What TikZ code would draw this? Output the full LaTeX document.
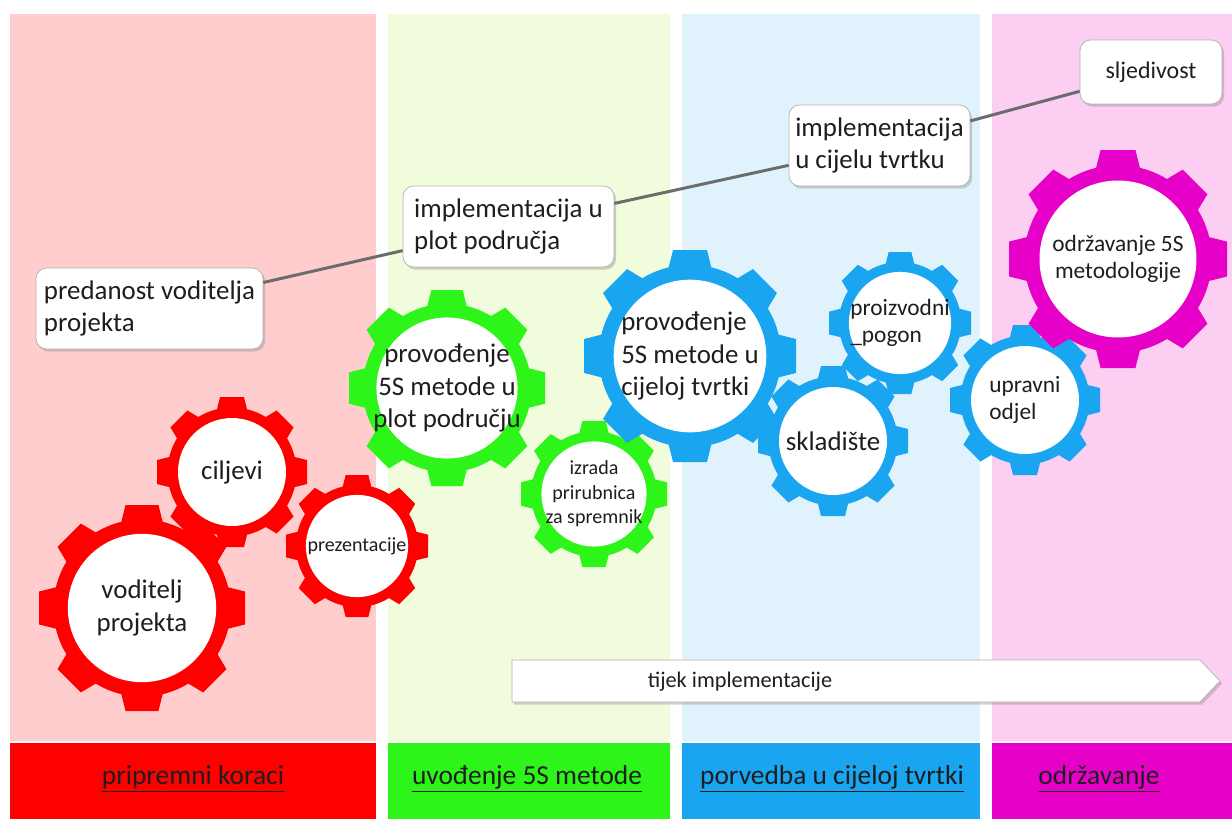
\documentclass[tikz,border=0pt]{standalone}
\usepackage{fontspec}
\setmainfont{Carlito}
\usetikzlibrary{shadows, backgrounds}

% zupcanik: #1 sredina, #2 polumjer, #3 boja, #4 ime, #5 stil teksta, #6 tekst
\newcommand{\zupcanik}[6]{%
    \begin{scope}[shift={#1}]
        \fill[#3] (0,0) circle ({0.86*#2});
        \foreach \kut in {0,45,...,315}
            \fill[#3, rotate=\kut] ({0.8*#2},{-0.21*#2}) -- ({#2},{-0.16*#2}) -- ({#2},{0.16*#2}) -- ({0.8*#2},{0.21*#2}) -- cycle;
        \fill[white] (0,0) circle ({0.72*#2});
    \end{scope}
    \node[#5] (#4) at #1 {#6};%
}

\begin{document}
\begin{tikzpicture}[x=0.02cm, y=-0.02cm,
    oblacic/.style={draw=gray!60, fill=white, rounded corners=6pt, align=left, inner sep=2pt,
        text=tekst, font=\fontsize{15.3}{18.2}\selectfont,
        drop shadow={shadow xshift=1.2pt, shadow yshift=-1.5pt, opacity=0.35}},
    veza/.style={draw=gray!85!black, line width=1.7pt},
    zubac/.style={text=tekst, align=center, inner sep=0pt, font=\fontsize{15.3}{18.7}\selectfont},
    zubac mali/.style={zubac, font=\fontsize{11.4}{14}\selectfont},
    zubac srednji/.style={zubac, font=\fontsize{13.3}{15.6}\selectfont},
    traka/.style={text=tekst, font=\fontsize{15.6}{18}\selectfont},
    strelica/.style={draw=gray!60, fill=white, drop shadow={shadow xshift=1.2pt, shadow yshift=-1.5pt, opacity=0.35}}]

    % Boje
    \definecolor{tekst}{RGB}{30, 30, 30}
    \definecolor{crvena}{RGB}{255, 0, 0}
    \definecolor{zelena}{RGB}{45, 245, 25}
    \definecolor{plava}{RGB}{25, 165, 240}
    \definecolor{ljubicasta}{RGB}{230, 0, 200}
    \definecolor{crvenaS}{RGB}{255, 205, 205}
    \definecolor{zelenaS}{RGB}{240, 252, 220}
    \definecolor{plavaS}{RGB}{224, 243, 252}
    \definecolor{ljubicastaS}{RGB}{252, 206, 242}

    \useasboundingbox[fill=white] (0,0) rectangle (1232,819);

    % 1. Stupci i trake s nazivima faza
    \foreach \xa/\xb/\xt/\svijetla/\jaka/\natpis [count=\i] in
        {10/376/193/crvenaS/crvena/pripremni koraci,
         388/670/527/zelenaS/zelena/uvođenje 5S metode,
         682/980/832/plavaS/plava/porvedba u cijeloj tvrtki,
         992/1232/1099/ljubicastaS/ljubicasta/održavanje} {
        \fill[\svijetla] (\xa,14) rectangle (\xb,741);
        \fill[\jaka] (\xa,743) rectangle (\xb,819);
        \node[traka] (faza\i) at (\xt,779) {\underline{\natpis}};
    }

    % 2. Oblacici i linija izmedu njih
    \node[oblacic, minimum width=4.54cm, minimum height=1.62cm] (predanost) at (149.5,308.5)
        {predanost voditelja\\projekta};
    \node[oblacic, minimum width=4.22cm, minimum height=1.62cm] (implPlot) at (508.5,226.5)
        {implementacija u\\plot područja};
    \node[oblacic, minimum width=3.62cm, minimum height=1.62cm] (implTvrtka) at (879.5,145.5)
        {implementacija\\u cijelu tvrtku};
    \node[oblacic, align=center, minimum width=2.84cm, minimum height=1.28cm,
        font=\fontsize{13.6}{16}\selectfont] (sljedivost) at (1151,72) {sljedivost};
    \draw[veza] (predanost) -- (implPlot);
    \draw[veza] (implPlot) -- (implTvrtka);
    \draw[veza] (implTvrtka) -- (sljedivost);

    % 3. Strelica tijeka
    \draw[strelica] (512,660) -- (1200,660) -- (1220,681) -- (1200,702) -- (512,702) -- cycle;
    \node[text=tekst, font=\fontsize{12.7}{15}\selectfont] (tijek) at (740,682) {tijek implementacije};

    % 4. Zupcanici
    \zupcanik{(142,608)}{103}{crvena}{voditelj}{zubac}{voditelj\\projekta}
    \zupcanik{(232,472)}{75}{crvena}{ciljevi}{zubac}{ciljevi}
    \zupcanik{(357,546)}{71}{crvena}{prezentacije}{zubac mali}{prezentacije}
    \zupcanik{(447,388)}{98}{zelena}{plotPodrucje}{zubac}{provođenje\\5S metode u\\plot području}
    \zupcanik{(594,494)}{73}{zelena}{izrada}{zubac mali}{izrada\\prirubnica\\za spremnik}
    \zupcanik{(690,356)}{106}{plava}{cijelaTvrtka}{zubac, align=left}{provođenje\\5S metode u\\cijeloj tvrtki}
    \zupcanik{(833,441)}{75}{plava}{skladiste}{zubac}{skladište}
    \zupcanik{(900,323)}{71}{plava}{pogon}{zubac srednji, align=left}{proizvodni\\\_pogon}
    \zupcanik{(1025,400)}{75}{plava}{upravni}{zubac srednji, align=left}{upravni\\odjel}
    \zupcanik{(1118,259)}{109}{ljubicasta}{odrzavanje}{zubac srednji}{održavanje 5S\\metodologije}

\end{tikzpicture}
\end{document}
